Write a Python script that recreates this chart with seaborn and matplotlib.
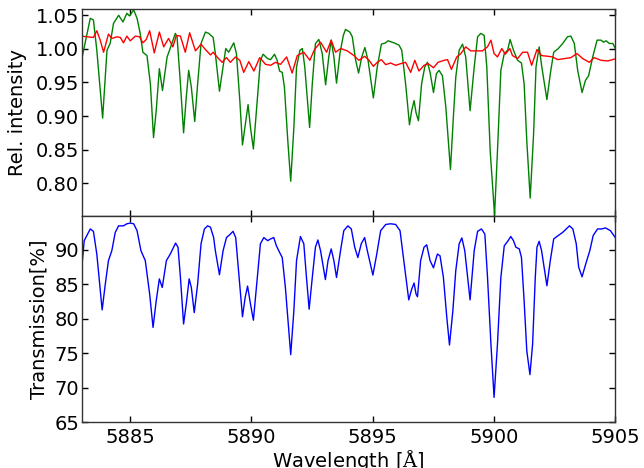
import numpy as np
import pandas as pd
import matplotlib
matplotlib.use("Agg")
import matplotlib.pyplot as plt
import seaborn as sns

# ---- data ----
green_x = [5883.00, 5883.35, 5883.48, 5883.62, 5883.86, 5884.04, 5884.17, 5884.31, 5884.52, 5884.70,
           5884.86, 5884.97, 5885.14, 5885.28, 5885.41, 5885.52, 5885.69, 5885.83, 5885.96, 5886.07,
           5886.20, 5886.33, 5886.52, 5886.62, 5886.86, 5886.93, 5887.07, 5887.20, 5887.31, 5887.41,
           5887.52, 5887.66, 5887.78, 5887.92, 5888.10, 5888.24, 5888.42, 5888.51, 5888.68, 5888.83,
           5888.94, 5889.06, 5889.27, 5889.38, 5889.52, 5889.63, 5889.75, 5889.86, 5889.96, 5890.08,
           5890.24, 5890.37, 5890.48, 5890.67, 5890.79, 5890.95, 5891.06, 5891.16, 5891.27, 5891.36,
           5891.50, 5891.62, 5891.75, 5891.86, 5892.00, 5892.10, 5892.20, 5892.40, 5892.51, 5892.64,
           5892.78, 5892.92, 5893.06, 5893.19, 5893.29, 5893.40, 5893.51, 5893.65, 5893.79, 5893.88,
           5894.06, 5894.16, 5894.30, 5894.42, 5894.55, 5894.68, 5894.81, 5895.03, 5895.19, 5895.36,
           5895.54, 5895.63, 5895.88, 5896.09, 5896.20, 5896.36, 5896.52, 5896.61, 5896.71, 5896.79,
           5896.89, 5897.02, 5897.15, 5897.26, 5897.37, 5897.51, 5897.63, 5897.74, 5897.88, 5898.02,
           5898.21, 5898.33, 5898.43, 5898.57, 5898.71, 5898.84, 5899.02, 5899.19, 5899.33, 5899.46,
           5899.60, 5899.71, 5899.85, 5900.03, 5900.15, 5900.29, 5900.43, 5900.57, 5900.67, 5900.81,
           5900.98, 5901.14, 5901.25, 5901.36, 5901.50, 5901.64, 5901.74, 5901.87, 5901.98, 5902.19,
           5902.33, 5902.47, 5902.66, 5902.84, 5903.04, 5903.18, 5903.32, 5903.46, 5903.64, 5903.78,
           5903.91, 5904.08, 5904.26, 5904.42, 5904.53, 5904.63, 5904.77, 5904.91, 5905.05]
green_y = [0.985, 1.0455, 1.043, 0.998, 0.897, 0.998, 1.008, 1.038, 1.050, 1.040,
           1.053, 1.049, 1.058, 1.0455, 1.023, 0.995, 0.990, 0.948, 0.868, 0.908,
           0.9705, 0.938, 0.988, 0.998, 1.023, 1.018, 0.948, 0.875, 0.928, 0.968,
           0.943, 0.892, 0.948, 1.008, 1.025, 1.023, 1.017, 0.993, 0.937, 0.973,
           1.0005, 0.995, 1.009, 0.993, 0.923, 0.857, 0.888, 0.917, 0.883, 0.851,
           0.923, 0.983, 0.992, 0.9855, 0.984, 0.992, 0.983, 0.967, 0.965, 0.943,
           0.863, 0.803, 0.883, 0.973, 0.998, 1.0005, 0.973, 0.883, 0.948, 1.008,
           1.014, 0.993, 0.9465, 0.988, 1.013, 0.988, 0.949, 0.993, 1.020, 1.029,
           1.025, 1.018, 0.983, 0.964, 0.988, 1.002, 0.983, 0.927, 0.973, 1.007,
           1.009, 1.012, 1.009, 1.0055, 0.998, 0.948, 0.887, 0.908, 0.923, 0.905,
           0.893, 0.948, 0.973, 0.980, 0.965, 0.935, 0.963, 0.968, 0.960, 0.913,
           0.8205, 0.898, 0.958, 0.998, 1.007, 0.988, 0.908, 0.973, 1.018, 1.023,
           1.020, 0.973, 0.848, 0.753, 0.848, 0.968, 0.993, 0.998, 1.014, 0.998,
           0.983, 0.979, 0.948, 0.863, 0.778, 0.873, 0.973, 1.003, 0.973, 0.9245,
           0.963, 0.995, 1.0005, 1.008, 1.018, 1.019, 1.008, 0.968, 0.935, 0.953,
           0.960, 0.988, 1.013, 1.013, 1.010, 1.012, 1.008, 1.008, 0.998]

red_x = [5883.00, 5883.21, 5883.48, 5883.62, 5883.76, 5883.90, 5884.10, 5884.24, 5884.45, 5884.59,
         5884.72, 5884.86, 5885.00, 5885.21, 5885.38, 5885.52, 5885.66, 5885.80, 5885.99, 5886.20,
         5886.38, 5886.58, 5886.76, 5886.90, 5887.07, 5887.27, 5887.45, 5887.69, 5887.92, 5888.10,
         5888.31, 5888.42, 5888.58, 5888.79, 5888.97, 5889.13, 5889.34, 5889.52, 5889.68, 5889.89,
         5890.10, 5890.34, 5890.58, 5890.79, 5890.99, 5891.20, 5891.45, 5891.68, 5891.89, 5892.16,
         5892.41, 5892.60, 5892.85, 5893.10, 5893.29, 5893.47, 5893.68, 5893.95, 5894.23, 5894.43,
         5894.67, 5894.85, 5895.03, 5895.19, 5895.36, 5895.54, 5895.74, 5895.95, 5896.16, 5896.36,
         5896.57, 5896.74, 5896.91, 5897.12, 5897.29, 5897.51, 5897.70, 5897.95, 5898.09, 5898.25,
         5898.47, 5898.64, 5898.84, 5899.05, 5899.26, 5899.53, 5899.74, 5899.88, 5900.01, 5900.15,
         5900.33, 5900.47, 5900.66, 5900.77, 5900.98, 5901.19, 5901.39, 5901.56, 5901.78, 5901.97,
         5902.22, 5902.43, 5902.63, 5902.91, 5903.18, 5903.43, 5903.67, 5903.94, 5904.14, 5904.42,
         5904.70, 5905.05]
red_y = [1.019, 1.018, 1.017, 1.027, 1.013, 0.995, 1.022, 1.0155, 1.018, 1.017,
         1.009, 1.019, 1.012, 1.019, 1.018, 1.009, 1.014, 1.027, 0.994, 1.025,
         1.003, 1.0155, 1.003, 1.020, 1.019, 0.995, 1.024, 0.997, 1.007, 0.999,
         0.991, 0.995, 0.988, 0.980, 0.987, 0.980, 0.988, 0.983, 0.965, 0.981,
         0.967, 0.987, 0.977, 0.9755, 0.980, 0.977, 0.988, 0.964, 0.990, 0.995,
         0.983, 0.999, 1.010, 0.995, 1.013, 0.995, 1.0005, 0.997, 0.990, 0.983,
         0.989, 0.983, 0.974, 0.980, 0.984, 0.9765, 0.979, 0.9755, 0.978, 0.980,
         0.965, 0.983, 0.967, 0.9755, 0.978, 0.972, 0.980, 0.983, 0.984, 0.9695,
         0.988, 0.993, 1.003, 0.997, 0.997, 0.997, 1.003, 1.013, 0.993, 0.988,
         1.0005, 0.992, 1.0005, 0.990, 0.9855, 0.995, 0.995, 0.9755, 0.999, 0.990,
         0.989, 0.988, 0.984, 0.9855, 0.987, 0.993, 0.9855, 0.980, 0.987, 0.983,
         0.982, 0.9855]

blue_x = [5883.00, 5883.10, 5883.35, 5883.48, 5883.62, 5883.84, 5883.97, 5884.10, 5884.24, 5884.38,
          5884.52, 5884.72, 5884.86, 5885.00, 5885.14, 5885.28, 5885.44, 5885.62, 5885.80, 5885.94,
          5886.07, 5886.20, 5886.32, 5886.49, 5886.65, 5886.87, 5886.97, 5887.07, 5887.20, 5887.31,
          5887.43, 5887.52, 5887.64, 5887.78, 5887.92, 5888.06, 5888.19, 5888.31, 5888.44, 5888.51,
          5888.68, 5888.83, 5888.97, 5889.10, 5889.24, 5889.35, 5889.49, 5889.63, 5889.74, 5889.84,
          5889.96, 5890.08, 5890.24, 5890.37, 5890.51, 5890.67, 5890.79, 5890.92, 5891.03, 5891.16,
          5891.27, 5891.40, 5891.52, 5891.62, 5891.75, 5891.86, 5892.02, 5892.16, 5892.27, 5892.38,
          5892.51, 5892.64, 5892.74, 5892.85, 5893.05, 5893.16, 5893.29, 5893.40, 5893.51, 5893.68,
          5893.81, 5893.98, 5894.12, 5894.26, 5894.39, 5894.53, 5894.67, 5894.78, 5895.01, 5895.17,
          5895.33, 5895.54, 5895.74, 5895.95, 5896.13, 5896.27, 5896.49, 5896.61, 5896.71, 5896.79,
          5896.85, 5896.98, 5897.12, 5897.23, 5897.37, 5897.51, 5897.67, 5897.78, 5897.92, 5898.06,
          5898.17, 5898.31, 5898.43, 5898.57, 5898.68, 5898.80, 5899.02, 5899.19, 5899.33, 5899.49,
          5899.63, 5899.74, 5899.88, 5900.01, 5900.15, 5900.29, 5900.43, 5900.57, 5900.70, 5900.81,
          5900.91, 5901.05, 5901.14, 5901.25, 5901.36, 5901.49, 5901.60, 5901.71, 5901.78, 5901.87,
          5901.97, 5902.19, 5902.33, 5902.47, 5902.66, 5902.84, 5903.12, 5903.26, 5903.40, 5903.50,
          5903.64, 5903.79, 5903.96, 5904.10, 5904.28, 5904.45, 5904.61, 5904.81, 5905.05]
blue_y = [87.5, 91.35, 93.05, 92.7, 89.4, 81.3, 85.05, 88.45, 89.9, 92.55,
          93.5, 93.5, 93.8, 93.9, 93.8, 92.8, 89.9, 88.45, 83.6, 78.75,
          82.6, 85.8, 84.55, 88.45, 89.4, 91.0, 90.4, 86.0, 79.25, 82.15,
          85.8, 84.55, 80.9, 85.05, 90.9, 93.05, 93.5, 93.3, 91.8, 89.9,
          86.4, 89.9, 91.8, 92.2, 92.7, 91.8, 86.0, 80.3, 83.1, 84.75,
          82.15, 79.8, 86.0, 90.9, 91.8, 91.35, 91.6, 91.8, 90.6, 89.65,
          88.9, 84.55, 79.25, 74.8, 81.2, 88.45, 91.95, 90.9, 86.0, 81.4,
          86.0, 90.4, 91.45, 89.9, 85.7, 88.45, 90.15, 88.45, 86.0, 90.0,
          92.8, 93.5, 93.05, 90.4, 88.9, 90.9, 91.8, 89.9, 86.35, 89.4,
          92.8, 93.7, 93.8, 93.7, 92.8, 88.9, 82.75, 84.3, 85.2, 83.6,
          83.2, 88.45, 90.4, 90.75, 88.45, 87.4, 89.4, 89.15, 86.0, 80.2,
          76.2, 81.2, 87.0, 90.9, 91.75, 89.9, 82.75, 89.9, 92.7, 93.05,
          92.3, 86.0, 76.35, 68.6, 76.35, 86.0, 90.6, 91.25, 91.95, 91.35,
          90.4, 90.15, 88.9, 82.6, 75.35, 71.9, 76.35, 86.0, 90.4, 91.25,
          89.9, 84.8, 88.45, 91.6, 92.1, 92.55, 93.5, 93.05, 90.9, 87.5,
          86.1, 87.95, 89.9, 92.1, 93.05, 93.05, 93.2, 92.8, 91.6]

x_ticks = [5885, 5890, 5895, 5900, 5905]
top_yticks = [0.80, 0.85, 0.90, 0.95, 1.00, 1.05]
bottom_yticks = [65, 70, 75, 80, 85, 90]

# ---- style ----
sns.set_style("ticks", {"xtick.direction": "in", "ytick.direction": "in",
                        "axes.edgecolor": "#333333", "text.color": "black",
                        "axes.labelcolor": "black", "xtick.color": "black",
                        "ytick.color": "black"})
plt.rcParams["font.family"] = ["DejaVu Sans"]
plt.rcParams["mathtext.fontset"] = "dejavuserif"
plt.rcParams["font.size"] = 14

FS = 14
fig, (ax1, ax2) = plt.subplots(2, 1, sharex=True, figsize=(6.44, 4.68), dpi=100)
fig.subplots_adjust(left=0.127, right=0.955, top=0.981, bottom=0.098, hspace=0)

sns.lineplot(x=green_x, y=green_y, ax=ax1, color=(0, 0.5, 0), lw=1, estimator=None, sort=False)
sns.lineplot(x=red_x, y=red_y, ax=ax1, color=(1, 0, 0), lw=1, estimator=None, sort=False)
sns.lineplot(x=blue_x, y=blue_y, ax=ax2, color=(0, 0, 1), lw=1, estimator=None, sort=False)

ax1.set_xlim(5883, 5905)
ax1.set_ylim(0.752, 1.0595)
ax1.set_yticks(top_yticks)
ax1.set_yticklabels([f"{v:.2f}" for v in top_yticks])
ax2.set_ylim(65, 95)
ax2.set_yticks(bottom_yticks)
ax2.set_xticks(x_ticks)
ax2.set_xticklabels([str(v) for v in x_ticks])

ax1.set_ylabel("Rel. intensity", fontsize=FS, labelpad=6)
ax2.set_ylabel("Transmission[%]", fontsize=FS, labelpad=4)
ax2.set_xlabel(r"Wavelength [$\mathrm{\AA}$]", fontsize=FS, labelpad=1)

for ax in (ax1, ax2):
    ax.tick_params(direction="in", top=True, right=True, length=4, width=1,
                   labelsize=FS, pad=2)
    for s in ax.spines.values():
        s.set_visible(True)
        s.set_linewidth(1)
ax2.tick_params(axis="x", pad=4)
ax1.tick_params(labelbottom=False)

fig.savefig("out.png", dpi=100)
